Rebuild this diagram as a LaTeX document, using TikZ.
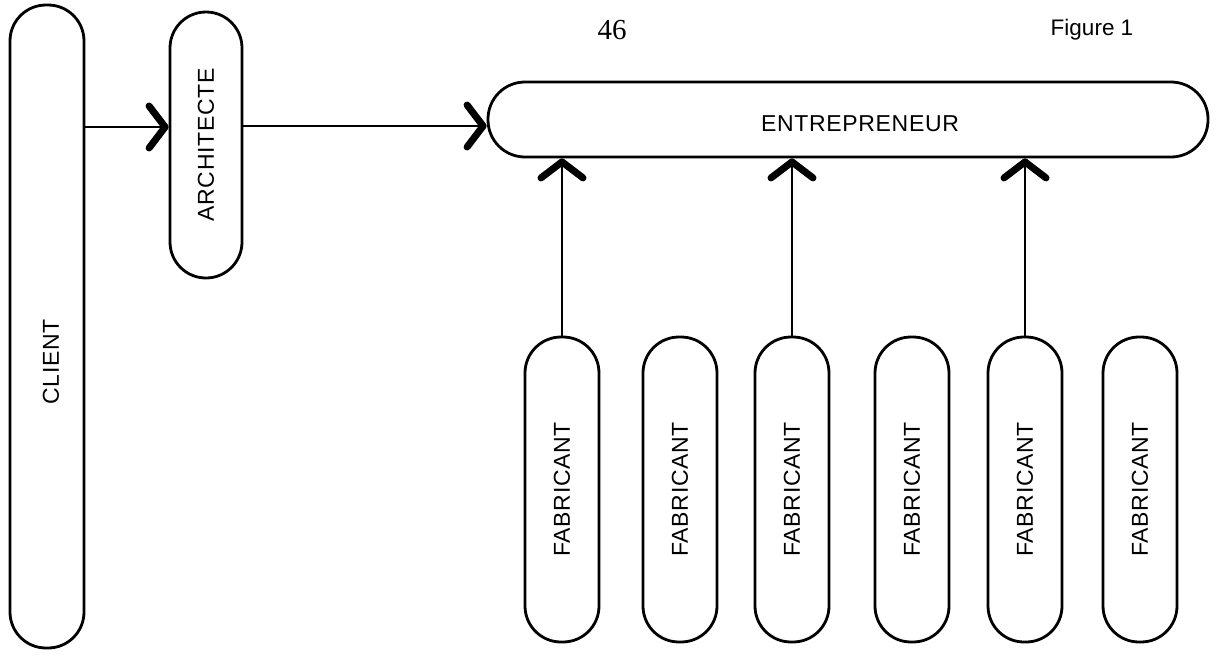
\documentclass[tikz,border=0pt]{standalone}
\usepackage{fontspec}
\setmainfont{Liberation Sans}
\newfontfamily\pagenumfont{Liberation Serif}
\usetikzlibrary{arrows.meta}
\begin{document}
\begin{tikzpicture}[x=1pt,y=-1pt,
  pill/.style={draw, line width=2.8pt, rectangle, rounded corners=36pt,
    inner sep=0pt, minimum width=74pt},
  vlabel/.style={font=\addfontfeatures{LetterSpace=3}\fontsize{23}{23}\selectfont},
  flow/.style={line width=2pt,
    -{Straight Barb[length=16pt,width=42pt,line width=7pt,round]}}]
\useasboundingbox (0,0) rectangle (1220,656);

% header
\node[font=\pagenumfont\fontsize{29}{29}\selectfont] (pagenum) at (612,30) {46};
\node[font=\fontsize{22.5}{22.5}\selectfont] (figlabel) at (1092,30) {Figure 1};

% client and architect
\node[pill, minimum height=643pt] (client) at (47,326.5) {};
\node[vlabel] (clienttext) at (51,362) {\rotatebox{90}{CLIENT}};
\node[pill, minimum height=266pt, minimum width=72pt, vlabel] (archi) at (206,145) {\rotatebox{90}{ARCHITECTE}};

% contractor
\node[pill, minimum width=720pt, minimum height=75pt, rounded corners=37pt] (entre) at (848,119.5) {};
\node[vlabel] (entretext) at (860,124) {ENTREPRENEUR};

% manufacturers
\foreach \i/\x in {1/562,2/680,3/792,4/912,5/1025,6/1140}{
  \node[pill, minimum height=305pt, vlabel] (fab\i) at (\x,489.5) {\rotatebox{90}{FABRICANT}};
}

% flows
\draw[flow] (client.east |- 0,127) -- (archi.west |- 0,127);
\draw[flow] (archi.east |- 0,126) -- (entre.west |- 0,126);
\foreach \i in {1,3,5}{
  \draw[flow] (fab\i.north) -- (entre.south -| fab\i.north);
}
\end{tikzpicture}
\end{document}
